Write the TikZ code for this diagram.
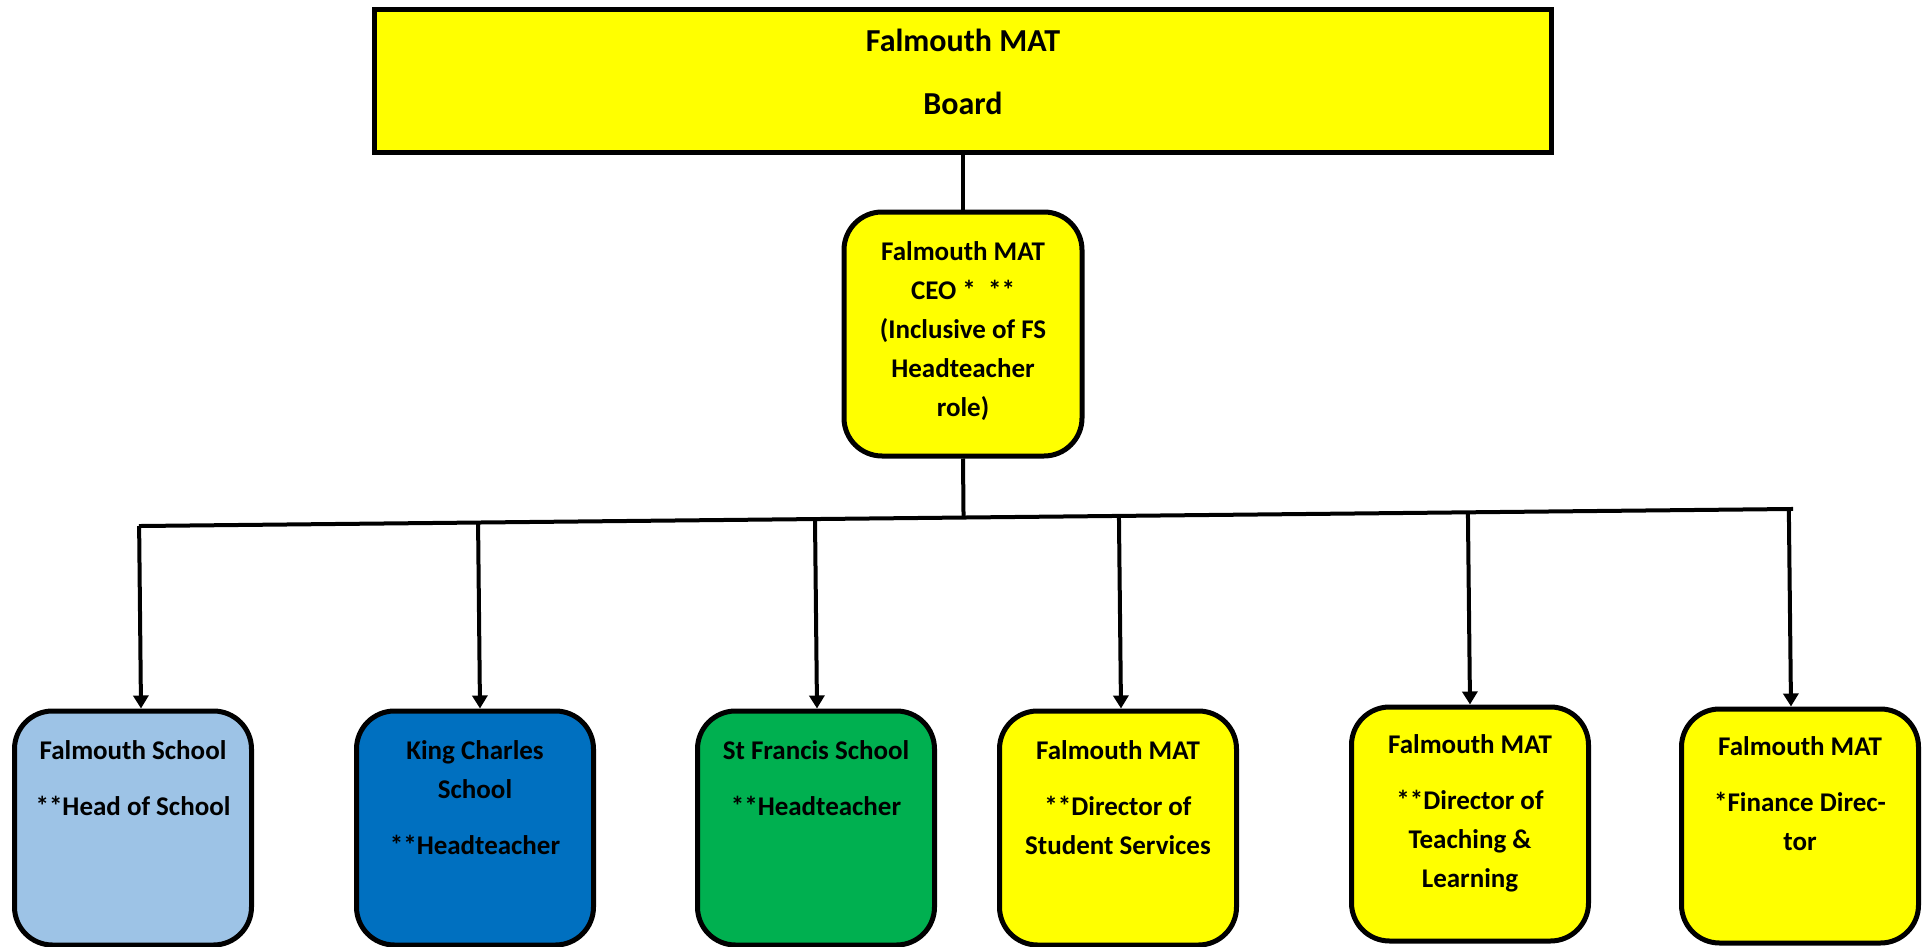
\documentclass[tikz,border=0pt]{standalone}
\usepackage{fontspec}
\setmainfont{Carlito}
\usetikzlibrary{calc,positioning,arrows.meta}

\definecolor{matyellow}{HTML}{FFFF00}
\definecolor{fsblue}{HTML}{9DC3E6}
\definecolor{kcblue}{HTML}{0070C0}
\definecolor{sfgreen}{HTML}{00B050}

\tikzset{
  board box/.style={draw, line width=2.5pt, fill=matyellow,
    minimum width=588.5pt, minimum height=71.5pt, inner sep=0pt},
  role box/.style={draw, line width=2.5pt, rounded corners=19pt,
    minimum width=118.5pt, minimum height=117pt, inner sep=0pt},
  role label/.style={anchor=north, align=center, inner sep=0pt,
    font=\fontsize{13.5}{19.5}\selectfont\bfseries},
  link/.style={line width=2pt},
  link arrow/.style={link, -{Triangle[length=6.5pt,width=7.5pt]}}
}

\begin{document}
\begin{tikzpicture}[x=0.5pt,y=-0.5pt]
  \useasboundingbox (0,0) rectangle (1923,947);

  % board and CEO
  \node (board) [board box] at (963,81.5) {};
  \node (board_label) [role label, anchor=center,
    font=\fontsize{16}{31.5}\selectfont\bfseries] at ([yshift=5pt]board) {Falmouth MAT\\Board};

  \node (ceo) [role box, fill=matyellow, minimum width=119pt, minimum height=122pt] at (963,334) {};
  \node (ceo_label) [role label, anchor=center] at ([yshift=1.5pt]ceo)
    {Falmouth MAT\\CEO *\ \ **\\(Inclusive of FS\\Headteacher\\role)};

  % second row
  \node (fs)  [role box, fill=fsblue]    at (133,828)  {};
  \node (kc)  [role box, fill=kcblue]    at (475,828)  {};
  \node (sf)  [role box, fill=sfgreen]   at (816,828)  {};
  \node (dss) [role box, fill=matyellow] at (1118,828) {};
  \node (dtl) [role box, fill=matyellow] at (1470,824) {};
  \node (fd)  [role box, fill=matyellow] at (1800,826) {};

  \node (fs_label)  [role label] at ([yshift=-16pt]fs.north)  {Falmouth School\\[8.5pt]**Head of School};
  \node (kc_label)  [role label] at ([yshift=-16pt]kc.north)  {King Charles\\School\\[8.5pt]**Headteacher};
  \node (sf_label)  [role label] at ([yshift=-16pt]sf.north)  {St Francis School\\[8.5pt]**Headteacher};
  \node (dss_label) [role label] at ([yshift=-16pt]dss.north) {Falmouth MAT\\[8.5pt]**Director of\\Student Services};
  \node (dtl_label) [role label] at ([yshift=-15pt]dtl.north) {Falmouth MAT\\[8.5pt]**Director of\\Teaching \&\\Learning};
  \node (fd_label)  [role label] at ([yshift=-15pt]fd.north)  {Falmouth MAT\\[8.5pt]*Finance Direc-\\tor};

  % connectors
  \coordinate (bus_left) at (141,526);
  \coordinate (bus_right) at (1791,509);

  \draw[link] (board.south) -- (ceo.north);
  \draw[link] (ceo.south) -- ($(bus_left)!(ceo.south)!(bus_right)$);
  \draw[link, line cap=rect] (bus_left) -- (bus_right);

  \foreach \r/\dx in {fs/4pt,kc/2.5pt,sf/0.5pt,dss/1.5pt,dtl/0pt,fd/-4.5pt}
    \draw[link arrow] ($(bus_left)!([xshift=\dx]\r.north)!(bus_right)$) -- ([xshift=\dx]\r.north);
\end{tikzpicture}
\end{document}
